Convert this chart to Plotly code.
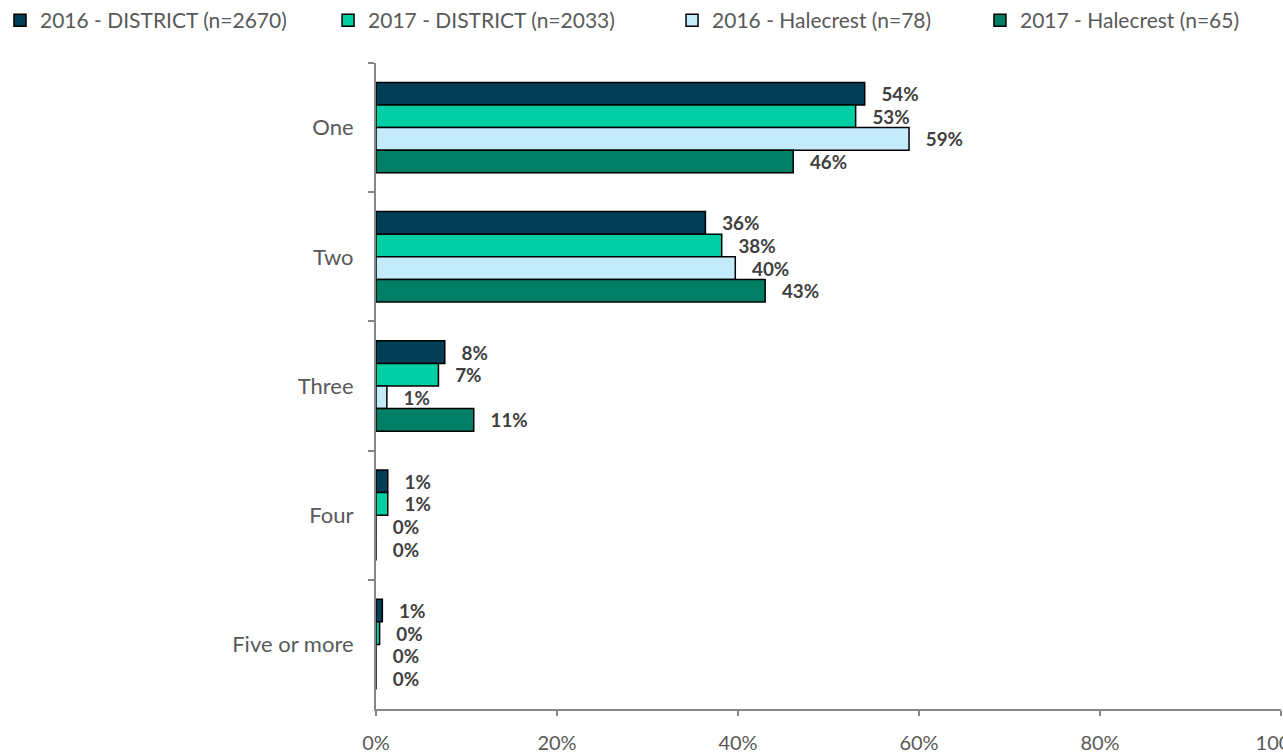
import plotly.graph_objects as go

categories = ["One", "Two", "Three", "Four", "Five or more"]
series_names = ["2016 - DISTRICT (n=2670)", "2017 - DISTRICT (n=2033)",
                "2016 - Halecrest (n=78)", "2017 - Halecrest (n=65)"]
dist_2016 = [0.540, 0.364, 0.076, 0.013, 0.007]
dist_2017 = [0.530, 0.382, 0.069, 0.013, 0.004]
hale_2016 = [0.589, 0.397, 0.012, 0.0, 0.0]
hale_2017 = [0.461, 0.430, 0.108, 0.0, 0.0]
colors = ["#023E56", "#00CFA3", "#C4EBFA", "#007F66"]
x_ticks = [0, 0.2, 0.4, 0.6, 0.8, 1.0]
x_tick_labels = ["0%", "20%", "40%", "60%", "80%", "100%"]

FONT = "Lato"
legend_ids = ["legend", "legend2", "legend3", "legend4"]
legend_x = [0.0, 0.2557, 0.5238, 0.7638]

fig = go.Figure()
for name, vals, col, lid in zip(series_names, [dist_2016, dist_2017, hale_2016, hale_2017], colors, legend_ids):
    fig.add_trace(go.Bar(
        y=categories, x=vals, name=name, orientation="h",
        marker=dict(color=col, line=dict(color="#000000", width=1.5)),
        text=[f"{round(v*100):.0f}%" for v in vals],
        texttemplate="   %{text}",
        textposition="outside", cliponaxis=False,
        textfont=dict(family=FONT, size=20, color="#404040", weight="bold"),
        legend=lid,
    ))

layout_legends = {}
for lid, lx in zip(legend_ids, legend_x):
    layout_legends[lid] = dict(orientation="h", x=lx, xref="container", xanchor="left",
                               y=1.0, yref="container", yanchor="top",
                               font=dict(family=FONT, size=21, color="#595959"),
                               itemwidth=30, bgcolor="rgba(0,0,0,0)",
                               tracegroupgap=0)

fig.update_layout(
    width=1283, height=754,
    barmode="group", bargap=0.3, bargroupgap=0,
    plot_bgcolor="white", paper_bgcolor="white",
    margin=dict(l=376, r=2, t=63, b=45, autoexpand=False),
    font=dict(family=FONT, size=20, color="#595959"),
    showlegend=True,
    **layout_legends,
)
fig.update_xaxes(range=[0, 1.0], tickvals=x_ticks, ticktext=x_tick_labels,
                 showgrid=False, zeroline=False, showline=True, automargin=False,
                 linecolor="#868686", linewidth=2, ticks="outside",
                 tickcolor="#868686", ticklen=5, tickwidth=1.5,
                 ticklabelstandoff=10, ticklabeloverflow="allow",
                 tickfont=dict(family=FONT, size=20, color="#595959"))
fig.update_yaxes(autorange="reversed", showgrid=False, showline=True, automargin=False,
                 linecolor="#868686", linewidth=2, ticks="outside",
                 tickson="boundaries", ticklen=6, tickcolor="#868686", tickwidth=1.5,
                 ticklabelstandoff=16,
                 tickfont=dict(family=FONT, size=22, color="#595959"))

fig.write_html("out.html", config={"displayModeBar": False},
               post_script="document.body.style.margin='0px';document.body.style.overflow='hidden';")
